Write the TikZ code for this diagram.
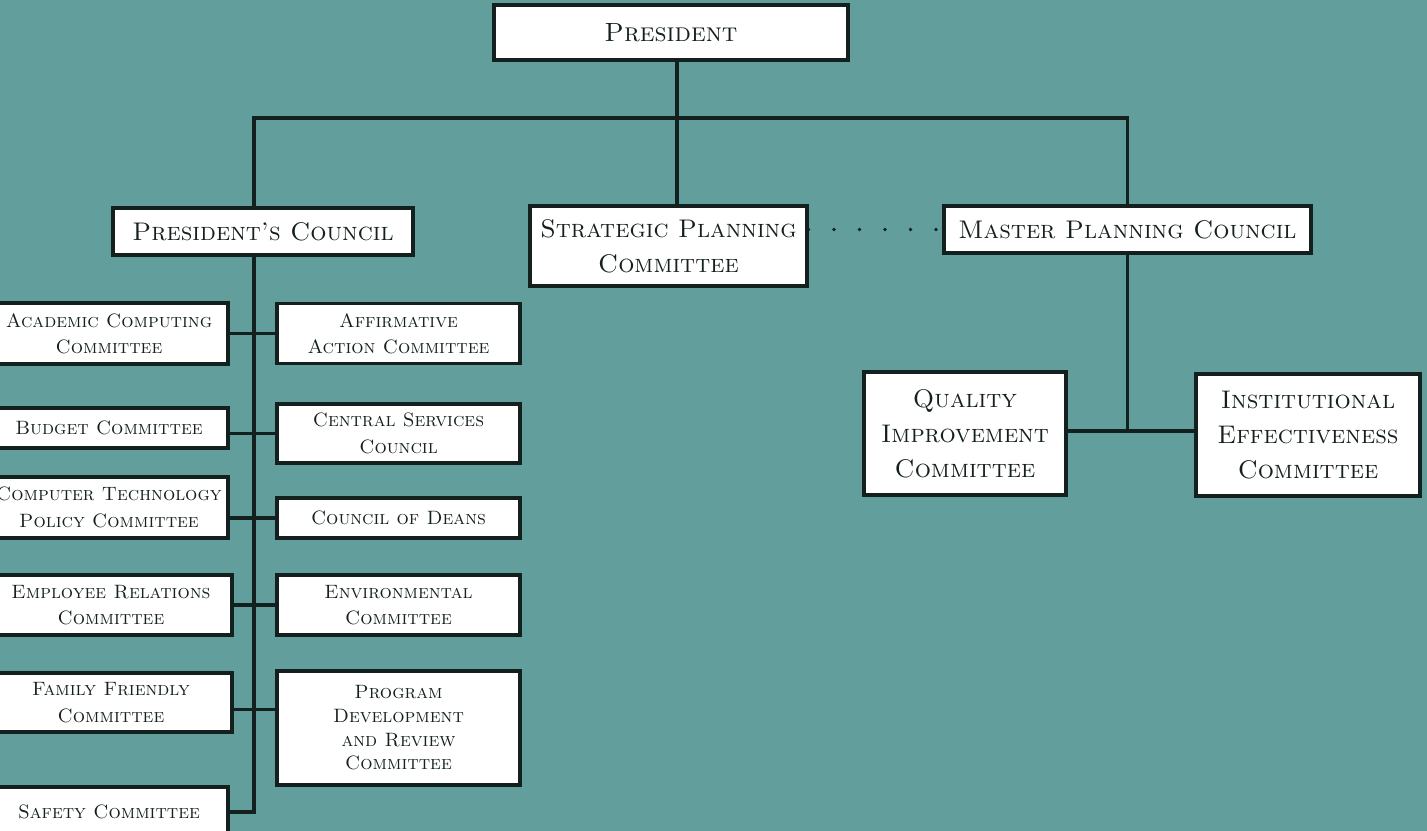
\documentclass[tikz,border=0pt]{standalone}
\usetikzlibrary{positioning}
\definecolor{chartbg}{RGB}{98,158,155}
\definecolor{ink}{RGB}{20,32,30}

\begin{document}
\begin{tikzpicture}[x=0.02cm, y=-0.02cm]
      \tikzstyle{main} = [rectangle, draw = ink, fill = white, line width = 1.8pt, inner sep = 0pt, align = center, text = ink]
      \tikzstyle{head} = [main, font = \fontsize{15}{20}\selectfont\scshape]
      \tikzstyle{council} = [main, font = \fontsize{14.5}{20}\selectfont\scshape]
      \tikzstyle{member} = [main, font = \fontsize{11}{15}\selectfont\scshape, minimum width = 4.86cm]
      \tikzstyle{connect} = [draw = ink, line width = 1.8pt]
      \tikzstyle{link} = [draw = ink, line width = 2.1pt, line cap = round, dash pattern = on 0pt off 14.5pt]
      \useasboundingbox (0,0) rectangle (1427,831);
      \clip (0,0) rectangle (1427,831);
      \fill[chartbg] (0,0) rectangle (1427,831);
      % top of the chart
      \node[head, minimum width = 7.08cm, minimum height = 1.1cm] (pres) at (671,32.5) {President};
      \node[council, minimum width = 6cm, minimum height = 0.94cm] (pc) at (263,231.5) {President's Council};
      \node[council, minimum width = 5.54cm, minimum height = 1.6cm] (spc) at (668.5,246) {Strategic Planning\\Committee};
      \node[council, minimum width = 7.34cm, minimum height = 0.94cm] (mpc) at (1127.5,229.5) {Master Planning Council};
      \coordinate (bar) at (677,118);
      \coordinate (trunk) at (254,118);
      % committees under the president's council
      \node[member, minimum height = 1.22cm, minimum width = 4.76cm] (acad) at (109,333.5) {Academic Computing\\Committee};
      \node[member, minimum height = 0.8cm, minimum width = 4.76cm] (budget) at (109,428) {Budget Committee};
      \node[member, minimum height = 1.22cm, minimum width = 4.76cm] (tech) at (109,507.5) {Computer Technology\\Policy Committee};
      \node[member, minimum height = 1.2cm, minimum width = 4.84cm] (employee) at (111,605) {Employee Relations\\Committee};
      \node[member, minimum height = 1.18cm, minimum width = 4.84cm] (family) at (111,702.5) {Family Friendly\\Committee};
      \node[member, minimum height = 1cm, minimum width = 4.76cm] (safety) at (109,812) {Safety Committee};
      \node[member, minimum height = 1.2cm] (aa) at (398.5,333.5) {Affirmative\\Action Committee};
      \node[member, minimum height = 1.18cm] (central) at (398.5,433.5) {Central Services\\Council};
      \node[member, minimum height = 0.8cm] (deans) at (398.5,518) {Council of Deans};
      \node[member, minimum height = 1.2cm] (env) at (398.5,605) {Environmental\\Committee};
      \node[member, minimum height = 2.28cm, font = \fontsize{11}{13.5}\selectfont\scshape] (program) at (398.5,728) {Program\\Development\\and Review\\Committee};
      % committees under the master planning council
      \node[council, minimum width = 4.04cm, minimum height = 2.46cm] (quality) at (965,433.5) {Quality\\Improvement\\Committee};
      \node[council, minimum width = 4.48cm, minimum height = 2.44cm] (inst) at (1308,435) {Institutional\\Effectiveness\\Committee};
      \coordinate (mid) at (1127.5,431);
      % lines
      \draw[connect] (pres.south -| bar) -- (spc.north -| bar);
      \draw[connect] (pc.north -| trunk) -- (trunk) -- (bar -| mpc.north) -- (mpc.north);
      \draw[connect] (pc.south -| trunk) -- (safety.east -| trunk) -- (safety.east);
      \draw[connect] (acad.east) -- (aa.west);
      \draw[connect] (budget.east |- central.west) -- (central.west);
      \draw[connect] (tech.east |- deans.west) -- (deans.west);
      \draw[connect] (employee.east) -- (env.west);
      \draw[connect] ([yshift=-4pt]family.east) -- ([yshift=-4pt]family.east -| program.west);
      \draw[connect] (mpc.south) -- (mid);
      \draw[connect] (quality.east |- mid) -- (inst.west |- mid);
      \draw[link] (spc.east |- mpc.west) -- (mpc.west);
    \end{tikzpicture}
\end{document}
